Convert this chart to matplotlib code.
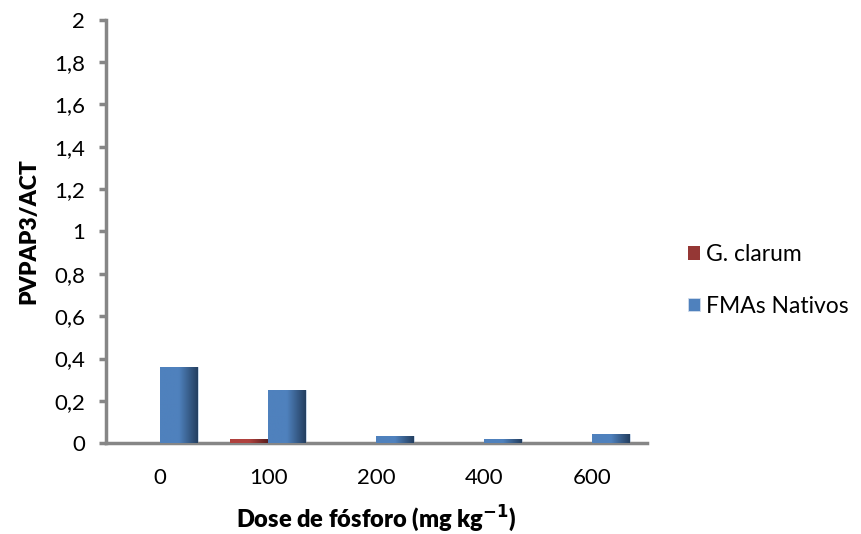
import numpy as np
import matplotlib
matplotlib.use('Agg')
import matplotlib.pyplot as plt
from matplotlib.colors import LinearSegmentedColormap

doses = ['0', '100', '200', '400', '600']
g_clarum = [0.0, 0.022, 0.0, 0.0, 0.0]
fmas_nativos = [0.36, 0.25, 0.033, 0.018, 0.043]

plt.rcParams['font.family'] = ['Lato', 'DejaVu Sans']

fig = plt.figure(figsize=(8.62, 5.34), dpi=100)
ax = fig.add_axes([0.123, 0.170, 0.627, 0.793])

x = np.arange(len(doses))
w = 0.35

red_bars = ax.bar(x - w / 2, g_clarum, w, color='#953735', label='G. clarum')
blue_bars = ax.bar(x + w / 2, fmas_nativos, w, color='#4f81bd', label='FMAs Nativos')

# shade each bar from light on the left to dark on the right
def shade(bars, light, dark):
    cmap = LinearSegmentedColormap.from_list('s', [light, light, dark])
    grad = np.linspace(0, 1, 100).reshape(1, -1)
    for b in bars:
        if b.get_height() <= 0:
            continue
        bx, by = b.get_x(), b.get_y()
        im = ax.imshow(grad, cmap=cmap, aspect='auto', zorder=3,
                       extent=[bx, bx + b.get_width(), by, by + b.get_height()])
        im.set_clip_path(b)
        b.set_edgecolor('#d0dcec')
        b.set_linewidth(0.6)

shade(red_bars, '#b0413e', '#5c1f1e')
shade(blue_bars, '#4f81bd', '#243f60')

ax.set_xlim(-0.5, 4.5)
ax.set_ylim(0, 2)
ax.set_xticks(x)
ax.set_xticklabels(doses, fontsize=16)
ax.set_yticks(np.arange(0, 2.01, 0.2))
ax.set_yticklabels([('%g' % v).replace('.', ',') for v in np.arange(0, 2.01, 0.2)], fontsize=16)

for s in ['top', 'right']:
    ax.spines[s].set_visible(False)
for s in ['left', 'bottom']:
    ax.spines[s].set_color('#868686')
    ax.spines[s].set_linewidth(2.5)
ax.tick_params(axis='y', length=5, width=2.5, color='#868686', pad=10)
ax.tick_params(axis='x', length=0, pad=18)

ax.set_ylabel('PVPAP3/ACT', fontsize=16.5, fontweight='heavy', labelpad=11)
ax.set_xlabel('Dose de fósforo (mg kg$^{\\mathbf{-1}}$)', fontsize=17, fontweight='heavy', labelpad=11)

ax.legend(loc='center left', bbox_to_anchor=(1.06, 0.385), frameon=False, fontsize=16.5,
          handlelength=0.5, handleheight=0.55, handletextpad=0.3, labelspacing=1.35,
          borderaxespad=0.0)

fig.savefig('out.png', dpi=100)
